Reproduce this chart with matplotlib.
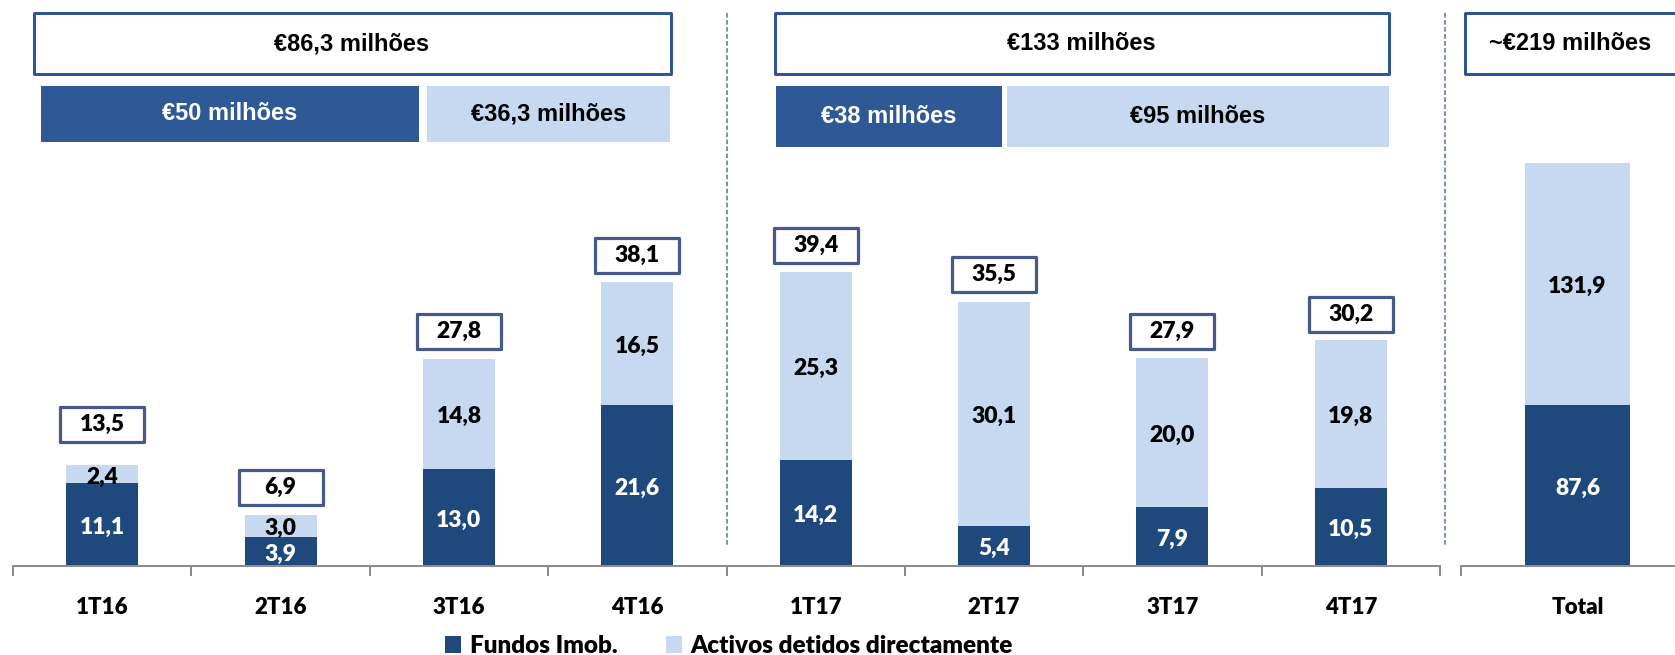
import numpy as np
import matplotlib
matplotlib.use("Agg")
import matplotlib.pyplot as plt
from matplotlib.patches import Rectangle, Patch
from matplotlib.lines import Line2D

## dados
quarters = ['1T16', '2T16', '3T16', '4T16', '1T17', '2T17', '3T17', '4T17']
fundos = [11.1, 3.9, 13.0, 21.6, 14.2, 5.4, 7.9, 10.5]
activos = [2.4, 3.0, 14.8, 16.5, 25.3, 30.1, 20.0, 19.8]
totais = [13.5, 6.9, 27.8, 38.1, 39.4, 35.5, 27.9, 30.2]
total_label = 'Total'
total_fundos = 87.6
total_activos = 131.9
year_totals = ['€86,3 milhões', '€133 milhões', '~€219 milhões']
year_fundos = ['€50 milhões', '€38 milhões']
year_activos = ['€36,3 milhões', '€95 milhões']
series_names = ['Fundos Imob.', 'Activos detidos directamente']

## estilo
W, H = 1675, 655
DARK = '#1F497D'
LIGHT = '#C6D9F1'
BOX_DARK = '#2F5896'
BOX_EDGE = '#2F5597'
LBL_EDGE = '#46598A'
AXIS_GREY = '#8C8C8C'
LAB = ['Lato', 'DejaVu Sans']
ARIAL = ['Liberation Sans', 'DejaVu Sans']
WT = 'heavy'
PX = 72 / 100  # pt por pixel


def fx(px):
    return px / W


def fy(py):
    return 1 - py / H


def fmt(v):
    return f"{v:.1f}".replace('.', ',')


fig = plt.figure(figsize=(W / 100, H / 100), dpi=100)

base_px, top_px = 566, 150
scale_q = 7.45           # px por unidade (trimestres)
scale_t = 403 / 219.5    # px por unidade (total)

ax = fig.add_axes([fx(13), fy(base_px), fx(1440) - fx(13), (base_px - top_px) / H])
axt = fig.add_axes([fx(1461), fy(base_px), 1 - fx(1461), (base_px - top_px) / H])
ax.set_ylim(0, (base_px - top_px) / scale_q)
axt.set_ylim(0, (base_px - top_px) / scale_t)
ax.set_xlim(-0.5, 7.5)
axt.set_xlim(-0.5, (W - 1577.5) / 233.0)

x = np.arange(len(quarters))
bw = 72 / 178.4
ax.bar(x, fundos, bw, color=DARK, zorder=2)
ax.bar(x, activos, bw, bottom=fundos, color=LIGHT, zorder=2)
axt.bar([0], [total_fundos], 0.45, color=DARK, zorder=2)
axt.bar([0], [total_activos], 0.45, bottom=[total_fundos], color=LIGHT, zorder=2)

for a in (ax, axt):
    for s in ('top', 'right', 'left'):
        a.spines[s].set_visible(False)
    a.spines['bottom'].set_color(AXIS_GREY)
    a.spines['bottom'].set_linewidth(2 * PX)
    a.set_yticks([])
    a.tick_params(axis='x', which='major', length=10 * PX, width=2 * PX,
                  color=AXIS_GREY, labelbottom=False)
    a.tick_params(axis='x', which='minor', length=0, pad=22)

ax.set_xticks(np.arange(-0.5, 8, 1))
ax.set_xticks(x, minor=True)
ax.set_xticklabels(quarters, minor=True, fontsize=16, fontweight=WT, family=LAB)
axt.set_xticks([-0.5])
axt.set_xticks([0], minor=True)
axt.set_xticklabels([total_label], minor=True, fontsize=16, fontweight=WT, family=LAB)

# valores dentro das barras
for i in range(len(quarters)):
    ax.annotate(fmt(fundos[i]), (x[i], fundos[i] / 2), xytext=(0, -2),
                textcoords='offset points', ha='center', va='center',
                color='white', fontsize=16.5, fontweight=WT, family=LAB, zorder=4)
    ax.annotate(fmt(activos[i]), (x[i], fundos[i] + activos[i] / 2), xytext=(0, -2),
                textcoords='offset points', ha='center', va='center',
                color='black', fontsize=16.5, fontweight=WT, family=LAB, zorder=4)
axt.annotate(fmt(total_fundos), (0, total_fundos / 2), xytext=(0, -2),
             textcoords='offset points', ha='center', va='center',
             color='white', fontsize=16.5, fontweight=WT, family=LAB)
axt.annotate(fmt(total_activos), (0, total_fundos + total_activos / 2), xytext=(0, -2),
             textcoords='offset points', ha='center', va='center',
             color='black', fontsize=16.5, fontweight=WT, family=LAB)

# caixas com o total trimestral
lift_px = [41, 27, 27, 27, 27, 27, 27, 27]
bx_w = 84 / 178.4
bx_h = 35 / scale_q
for i in range(len(quarters)):
    cy = totais[i] + lift_px[i] / scale_q
    ax.add_patch(Rectangle((x[i] - bx_w / 2, cy - bx_h / 2), bx_w, bx_h,
                           facecolor='white', edgecolor=LBL_EDGE, lw=3.2 * PX,
                           joinstyle='round', clip_on=False, zorder=3))
    ax.text(x[i], cy, fmt(totais[i]), ha='center', va='center', fontsize=16.5,
            fontweight=WT, family=LAB, zorder=4, clip_on=False)

# caixas do topo (por ano)
def fig_box(x0, x1, y0, y1, fc, ec=None, lw=0):
    fig.add_artist(Rectangle((fx(x0), fy(y1)), fx(x1) - fx(x0), (y1 - y0) / H,
                             transform=fig.transFigure, facecolor=fc,
                             edgecolor=ec if ec else 'none', lw=lw,
                             joinstyle='round', clip_on=False))


def fig_text(xp, yp, s, color='black', ha='center'):
    fig.text(fx(xp), fy(yp), s, ha=ha, va='center', color=color, fontsize=17,
             fontweight='bold', family=ARIAL)


fig_box(33.5, 670.5, 13.5, 73.5, 'white', BOX_EDGE, 3 * PX)
fig_text(352, 44, year_totals[0])
fig_box(774.5, 1388.5, 13.5, 73.5, 'white', BOX_EDGE, 3 * PX)
fig_text(1081, 44, year_totals[1])
fig_box(1464.5, 1690, 13.5, 73.5, 'white', BOX_EDGE, 3 * PX)
fig_text(1489, 44, year_totals[2], ha='left')

fig_box(41, 419, 86, 142, BOX_DARK)
fig_text(230, 114, year_fundos[0], color='white')
fig_box(427, 670, 86, 142, LIGHT)
fig_text(548.5, 114, year_activos[0])
fig_box(776, 1002, 86, 147, BOX_DARK)
fig_text(889, 116.5, year_fundos[1], color='white')
fig_box(1007, 1389, 86, 147, LIGHT)
fig_text(1198, 116.5, year_activos[1])

# linhas verticais tracejadas
for xp in (727, 1445):
    fig.add_artist(Line2D([fx(xp), fx(xp)], [fy(13), fy(547)], transform=fig.transFigure,
                          color='#5470AE', lw=1.1, linestyle=(0, (3, 1.6))))

# legenda
handles = [Patch(facecolor=DARK, label=series_names[0]),
           Patch(facecolor=LIGHT, label=series_names[1])]
fig.legend(handles=handles, loc='center', bbox_to_anchor=(fx(729), fy(646)), ncol=2,
           frameon=False, prop={'family': LAB, 'weight': WT, 'size': 17.5},
           handlelength=0.65, handleheight=0.65, handletextpad=0.35, columnspacing=2.0,
           borderpad=0, borderaxespad=0)

fig.savefig('out.png', dpi=100)
